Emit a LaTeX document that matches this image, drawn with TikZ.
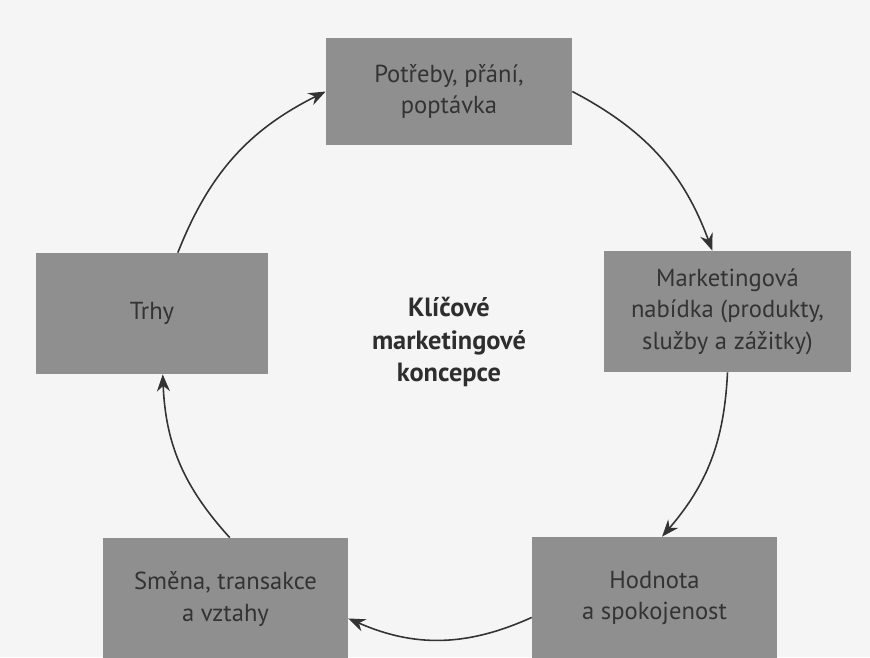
\documentclass[tikz,border=0pt]{standalone}
\usepackage{fontspec}
\setmainfont{PT Sans}
\usetikzlibrary{arrows.meta}
\begin{document}
\begin{tikzpicture}[x=.2mm,y=-.2mm,
                    flow/.style={line width=.9pt,draw=black!80,-{Stealth[length=3.4mm,width=2.6mm]}},
                    box/.style={rectangle,fill=black!44,text=black!80,align=center,
                                inner sep=0pt,font=\fontsize{14}{18}\selectfont},
                    every node/.style={font=\fontsize{14}{18}\selectfont}]
 \fill[black!4] (0,0) rectangle (870,657);
 \useasboundingbox (0,0) rectangle (870,657);
 \node[box,minimum width=49.2mm,minimum height=21.4mm] (potreby) at (449,91.5) {Potřeby, přání,\\poptávka};
 \node[box,minimum width=49.4mm,minimum height=24.2mm] (nabidka) at (727.5,311.5) {Marketingová\\nabídka (produkty,\\služby a zážitky)};
 \node[box,minimum width=49mm,minimum height=24.4mm] (hodnota) at (654.5,598) {Hodnota\\a spokojenost};
 \node[box,minimum width=49mm,minimum height=24.4mm] (smena) at (225.5,599) {Směna, transakce\\a vztahy};
 \node[box,minimum width=46.4mm,minimum height=24.2mm] (trhy) at (152,313.5) {Trhy};
 \node[align=center,text=black!82,font=\fontsize{15}{18.5}\selectfont\bfseries] (stred) at (449,342) {Klíčové\\marketingové\\koncepce};
 \draw[flow] (trhy.67) to[bend left=21] (potreby.west);
 \draw[flow] (potreby.east) to[bend left=21] (nabidka.104);
 \draw[flow] (nabidka.south) to[bend left=19] (hodnota.83);
 \draw[flow] (hodnota.189) to[bend left=24] (smena.-9);
 \draw[flow] (smena.86) to[bend left=20] (trhy.-80);
\end{tikzpicture}
\end{document}
